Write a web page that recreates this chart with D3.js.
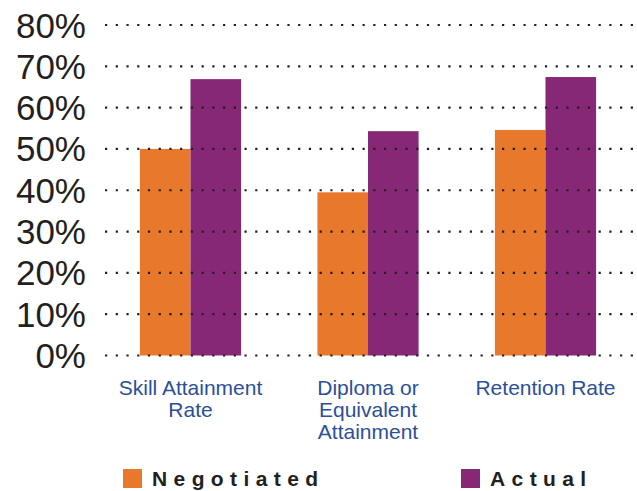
<!DOCTYPE html>
<html>
<head>
<meta charset="utf-8">
<script src="https://cdn.jsdelivr.net/npm/d3@7"></script>
<style>
  body { margin: 0; background: #fff; }
  text { font-family: Arial, "Liberation Sans", sans-serif; }
</style>
</head>
<body>
<div id="canvas"></div>
<script>
var width = 637,
    height = 491;

// data
var categories = ["Skill Attainment Rate", "Diploma or Equivalent Attainment", "Retention Rate"];
var categoryLines = [["Skill Attainment", "Rate"], ["Diploma or", "Equivalent", "Attainment"], ["Retention Rate"]];
var seriesNames = ["Negotiated", "Actual"];
var negotiated = [50, 39.5, 54.6];
var actual = [66.9, 54.3, 67.4];
var yTicks = [0, 10, 20, 30, 40, 50, 60, 70, 80];

var colors = {
  Negotiated: "#e8782c",
  Actual: "#862876"
};
var textDark = "#231f20";

var svg = d3.select("#canvas").append("svg")
    .attr("width", width)
    .attr("height", height);

var y = d3.scaleLinear()
    .domain([0, 80])
    .range([355.5, 25]);

var x0 = d3.scaleBand()
    .domain(categories)
    .range([101.75, 634.25])
    .paddingInner(0.43)
    .paddingOuter(0.215);

var x1 = d3.scaleBand()
    .domain(seriesNames)
    .range([0, x0.bandwidth()]);

var rows = categories.map(function(c, i) {
  return { cat: c, lines: categoryLines[i], values: [
    { key: "Negotiated", value: negotiated[i] },
    { key: "Actual", value: actual[i] }
  ]};
});

// bars
var groups = svg.append("g").selectAll("g")
    .data(rows).enter()
  .append("g")
    .attr("transform", function(d) { return "translate(" + x0(d.cat) + ",0)"; });

groups.selectAll("rect")
    .data(function(d) { return d.values; }).enter()
  .append("rect")
    .attr("x", function(d) { return x1(d.key); })
    .attr("y", function(d) { return y(d.value); })
    .attr("width", x1.bandwidth())
    .attr("height", function(d) { return y(0) - y(d.value); })
    .attr("fill", function(d) { return colors[d.key]; });

// dotted grid lines, drawn over the bars
svg.append("g").selectAll("line")
    .data(yTicks).enter()
  .append("line")
    .attr("x1", 105)
    .attr("x2", 634)
    .attr("y1", function(d) { return y(d); })
    .attr("y2", function(d) { return y(d); })
    .attr("stroke", textDark)
    .attr("stroke-width", 2.2)
    .attr("stroke-dasharray", "2.2,8.53");

// y labels
svg.append("g").selectAll("text")
    .data(yTicks).enter()
  .append("text")
    .attr("x", 86)
    .attr("y", function(d) { return y(d) + 12.5; })
    .attr("text-anchor", "end")
    .attr("font-size", "35px")
    .attr("fill", textDark)
    .text(function(d) { return d + "%"; });

// category labels
var catLabels = svg.append("g").selectAll("text")
    .data(rows).enter()
  .append("text")
    .attr("text-anchor", "middle")
    .attr("font-size", "21px")
    .attr("fill", "#2b4f9b");

catLabels.selectAll("tspan")
    .data(function(d) { return d.lines.map(function(l) { return { line: l, cat: d.cat }; }); }).enter()
  .append("tspan")
    .attr("x", function(d) { return x0(d.cat) + x0.bandwidth() / 2; })
    .attr("y", function(d, i) { return 395 + i * 22; })
    .text(function(d) { return d.line; });

// legend
var legendX = [123, 461];
var legend = svg.append("g").selectAll("g")
    .data(seriesNames).enter()
  .append("g")
    .attr("transform", function(d, i) { return "translate(" + legendX[i] + ",469)"; });

legend.append("rect")
    .attr("width", 19)
    .attr("height", 19)
    .attr("fill", function(d) { return colors[d]; });

legend.append("text")
    .attr("x", 29)
    .attr("y", 17)
    .attr("font-size", "21px")
    .attr("font-weight", "bold")
    .attr("letter-spacing", "6.4px")
    .attr("fill", textDark)
    .text(function(d) { return d; });
</script>
</body>
</html>
